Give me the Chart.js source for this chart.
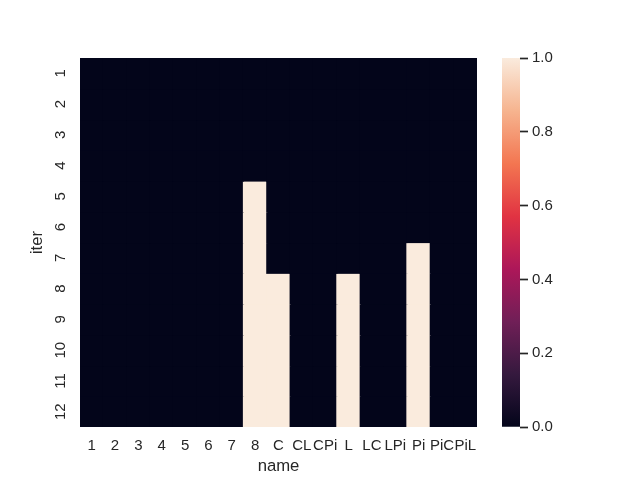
<!DOCTYPE html>
<html>
<head>
<meta charset="utf-8">
<script src="https://cdn.jsdelivr.net/npm/chart.js@4.4.1/dist/chart.umd.min.js"></script>
<style>
body { margin: 0; background: #fff; }
#wrap { position: relative; width: 640px; height: 480px; }
canvas { position: absolute; top: 0; }
</style>
</head>
<body>
<div id="wrap">
  <canvas id="heat" width="640" height="480" style="left:0"></canvas>
  <canvas id="cbar" width="160" height="480" style="left:480px"></canvas>
</div>
<script>
var names = ['1', '2', '3', '4', '5', '6', '7', '8', 'C', 'CL', 'CPi', 'L', 'LC', 'LPi', 'Pi', 'PiC', 'PiL'];
var iters = ['1', '2', '3', '4', '5', '6', '7', '8', '9', '10', '11', '12'];
// one row per iter, one column per name
var values = [
    [0, 0, 0, 0, 0, 0, 0, 0, 0, 0, 0, 0, 0, 0, 0, 0, 0],
    [0, 0, 0, 0, 0, 0, 0, 0, 0, 0, 0, 0, 0, 0, 0, 0, 0],
    [0, 0, 0, 0, 0, 0, 0, 0, 0, 0, 0, 0, 0, 0, 0, 0, 0],
    [0, 0, 0, 0, 0, 0, 0, 0, 0, 0, 0, 0, 0, 0, 0, 0, 0],
    [0, 0, 0, 0, 0, 0, 0, 1, 0, 0, 0, 0, 0, 0, 0, 0, 0],
    [0, 0, 0, 0, 0, 0, 0, 1, 0, 0, 0, 0, 0, 0, 0, 0, 0],
    [0, 0, 0, 0, 0, 0, 0, 1, 0, 0, 0, 0, 0, 0, 1, 0, 0],
    [0, 0, 0, 0, 0, 0, 0, 1, 1, 0, 0, 1, 0, 0, 1, 0, 0],
    [0, 0, 0, 0, 0, 0, 0, 1, 1, 0, 0, 1, 0, 0, 1, 0, 0],
    [0, 0, 0, 0, 0, 0, 0, 1, 1, 0, 0, 1, 0, 0, 1, 0, 0],
    [0, 0, 0, 0, 0, 0, 0, 1, 1, 0, 0, 1, 0, 0, 1, 0, 0],
    [0, 0, 0, 0, 0, 0, 0, 1, 1, 0, 0, 1, 0, 0, 1, 0, 0]
];
var cbarMin = 0;
var cbarMax = 1;
var cbarStep = 0.2;

// rocket colormap, sampled
var rocketStops = [
    [0.000, '#03051a'],
    [0.143, '#35193e'],
    [0.286, '#701f57'],
    [0.429, '#ad1759'],
    [0.571, '#e13342'],
    [0.714, '#f37651'],
    [0.857, '#f6b48f'],
    [1.000, '#faebdd']
];

var FONT = '"Liberation Sans", Arial, sans-serif';
var TEXT = '#262626';

function hexToRgb(h) {
    return [parseInt(h.substr(1, 2), 16), parseInt(h.substr(3, 2), 16), parseInt(h.substr(5, 2), 16)];
}
function rocket(v) {
    var t = (v - cbarMin) / (cbarMax - cbarMin);
    t = Math.max(0, Math.min(1, t));
    for (var i = 1; i < rocketStops.length; i++) {
        if (t <= rocketStops[i][0]) {
            var a = rocketStops[i - 1], b = rocketStops[i];
            var f = (t - a[0]) / (b[0] - a[0]);
            var ca = hexToRgb(a[1]), cb = hexToRgb(b[1]);
            var c = ca.map(function (x, k) { return Math.round(x + (cb[k] - x) * f); });
            return 'rgb(' + c.join(',') + ')';
        }
    }
    return rocketStops[rocketStops.length - 1][1];
}

var datasets = iters.map(function (it, r) {
    return {
        label: 'iter ' + it,
        data: names.map(function () { return [r, r + 1]; }),
        backgroundColor: values[r].map(rocket),
        borderWidth: 0,
        inflateAmount: 0.6, // hides the antialias seams between cells
        barPercentage: 1,
        categoryPercentage: 1,
        grouped: false
    };
});

new Chart(document.getElementById('heat'), {
    type: 'bar',
    data: { labels: names, datasets: datasets },
    options: {
        responsive: false,
        animation: false,
        devicePixelRatio: 1,
        layout: { padding: { left: 23, top: 58, right: 163, bottom: 0 } },
        plugins: { legend: { display: false }, tooltip: { enabled: false } },
        scales: {
            x: {
                grid: { display: false, drawTicks: false },
                border: { display: false },
                ticks: { color: TEXT, font: { family: FONT, size: 15 }, padding: 10, maxRotation: 0, autoSkip: false },
                title: { display: true, text: 'name', color: TEXT, font: { family: FONT, size: 16.7 }, padding: { top: 0, bottom: 4 } },
                afterFit: function (s) { s.height = 53; }
            },
            y: {
                type: 'linear',
                reverse: true,
                min: 0,
                max: iters.length,
                grid: { display: false, drawTicks: false },
                border: { display: false },
                afterBuildTicks: function (s) {
                    s.ticks = iters.map(function (it, i) { return { value: i + 0.5 }; });
                },
                ticks: {
                    color: TEXT,
                    font: { family: FONT, size: 15 },
                    minRotation: 90,
                    maxRotation: 90,
                    crossAlign: 'center',
                    padding: 11,
                    autoSkip: false,
                    callback: function (v) { return iters[Math.round(v - 0.5)]; }
                },
                title: { display: true, text: 'iter', color: TEXT, font: { family: FONT, size: 16.7 }, padding: { top: 4, bottom: 0 } },
                afterFit: function (s) { s.width = 57; }
            }
        }
    }
});

new Chart(document.getElementById('cbar'), {
    type: 'bar',
    data: {
        labels: ['value'],
        datasets: [{
            data: [[cbarMin, cbarMax]],
            borderWidth: 0,
            barPercentage: 1,
            categoryPercentage: 1,
            backgroundColor: function (ctx) {
                var area = ctx.chart.chartArea;
                if (!area) return rocketStops[0][1];
                var g = ctx.chart.ctx.createLinearGradient(0, area.bottom, 0, area.top);
                rocketStops.forEach(function (s) { g.addColorStop(s[0], s[1]); });
                return g;
            }
        }]
    },
    options: {
        responsive: false,
        animation: false,
        devicePixelRatio: 1,
        layout: { padding: { left: 22, top: 58, right: 0, bottom: 53 } },
        plugins: { legend: { display: false }, tooltip: { enabled: false } },
        scales: {
            x: { display: false },
            y: {
                position: 'right',
                min: cbarMin,
                max: cbarMax,
                grid: { drawOnChartArea: false, tickLength: 8, tickWidth: 1.7, tickColor: TEXT },
                border: { display: false },
                ticks: {
                    stepSize: cbarStep,
                    color: TEXT,
                    font: { family: FONT, size: 15 },
                    padding: 4,
                    callback: function (v) { return Number(v).toFixed(1); }
                },
                afterFit: function (s) { s.width = 120; }
            }
        }
    }
});
</script>
</body>
</html>
